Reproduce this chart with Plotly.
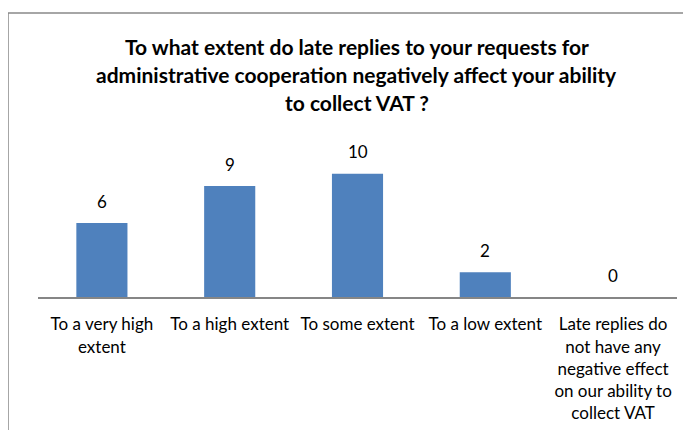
import plotly.graph_objects as go

categories = [
    "To a very high<br>extent",
    "To a high extent",
    "To some extent",
    "To a low extent",
    "Late replies do<br>not have any<br>negative effect<br>on our ability to<br>collect VAT",
]
counts = [6, 9, 10, 2, 0]

title_lines = [
    "To what extent do late replies to your requests for",
    "administrative cooperation negatively affect your ability",
    "to collect VAT ?",
]

BLUE = "#4F81BD"
FONT = "Lato"

fig = go.Figure(go.Bar(
    x=categories,
    y=counts,
    marker=dict(color=BLUE, line=dict(width=0)),
    hoverinfo="x+y",
))

# data labels above each bar
annotations = []
for cat, val in zip(categories, counts):
    annotations.append(dict(
        x=cat, y=val, xref="x", yref="y", text=str(val), showarrow=False,
        yanchor="middle", yshift=22, font=dict(family=FONT, size=17, color="#000000"),
    ))

# plot area spans 297px (y=0) up to 149px (y=1) on screen
def paper_y(py):
    return (297 - py) / 148

for i, line in enumerate(title_lines):
    annotations.append(dict(
        x=0.499, y=paper_y(47 + i * 27.5), xref="paper", yref="paper",
        text=f"<b>{line}</b>", showarrow=False, yanchor="middle", xanchor="center",
        font=dict(family=FONT, size=21, color="#000000"),
    ))

fig.update_layout(
    width=691,
    height=430,
    margin=dict(l=30, r=22, t=141, b=141),
    paper_bgcolor="white",
    plot_bgcolor="white",
    showlegend=False,
    bargap=0.6,
    font=dict(family=FONT, size=17, color="#000000"),
    annotations=annotations,
    xaxis=dict(
        showline=True, linecolor="#868686", linewidth=2,
        ticks="", tickangle=0, ticklabelstandoff=11, automargin=False,
        tickfont=dict(family=FONT, size=17, color="#000000"),
        showgrid=False, fixedrange=True,
    ),
    yaxis=dict(
        range=[0, 12], showticklabels=False, showgrid=False, zeroline=False,
        showline=False, fixedrange=True, automargin=False,
    ),
    shapes=[dict(
        type="rect", xref="paper", yref="paper",
        x0=(8 - 38) / 639, x1=1.2, y0=-3, y1=paper_y(13),
        line=dict(color="#898989", width=1.5), fillcolor="rgba(0,0,0,0)", layer="below",
    )],
)

fig.write_html("out.html")
